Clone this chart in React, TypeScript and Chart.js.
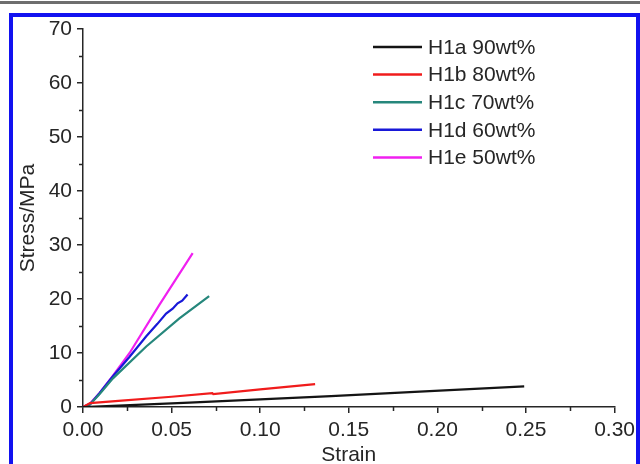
import { useEffect, useRef } from "react";
import { Chart, registerables } from "chart.js";

Chart.register(...registerables);

const seriesLabels = ["H1a 90wt%", "H1b 80wt%", "H1c 70wt%", "H1d 60wt%", "H1e 50wt%"];
const seriesColors = ["#141414", "#f01c1c", "#26877c", "#1818d8", "#f020f0"];

const h1aStrain = [0, 0.02, 0.06, 0.1, 0.14, 0.19, 0.249];
const h1aStress = [0, 0.25, 0.8, 1.4, 2.0, 2.85, 3.82];

const h1bStrain = [0, 0.004, 0.02, 0.05, 0.073, 0.0735, 0.1, 0.131];
const h1bStress = [0, 0.72, 1.15, 1.9, 2.55, 2.4, 3.25, 4.25];

const h1cStrain = [0, 0.004, 0.0094, 0.0169, 0.0357, 0.0544, 0.0712];
const h1cStress = [0, 0.5, 2.4, 5.3, 11.2, 16.4, 20.55];

const h1dStrain = [0, 0.004, 0.0094, 0.0169, 0.0263, 0.0357, 0.042, 0.0469, 0.0506, 0.0534, 0.056, 0.059];
const h1dStress = [0, 0.5, 2.6, 5.7, 9.3, 13.1, 15.4, 17.3, 18.2, 19.2, 19.7, 20.85];

const h1eStrain = [0, 0.0038, 0.0094, 0.0169, 0.0263, 0.0431, 0.0619];
const h1eStress = [0, 0.6, 2.6, 5.8, 10.0, 18.9, 28.5];

const xMin = 0;
const xMax = 0.3;
const xStep = 0.05;
const yMin = 0;
const yMax = 70;
const yStep = 10;

const seriesStrain = [h1aStrain, h1bStrain, h1cStrain, h1dStrain, h1eStrain];
const seriesStress = [h1aStress, h1bStress, h1cStress, h1dStress, h1eStress];

const FONT = '"Liberation Sans", Arial, sans-serif';
const TEXT = "#262626";

const minorTicksPlugin = {
  id: "minorTicks",
  afterDraw(chart: any) {
    const { ctx, chartArea, scales } = chart;
    const xs = scales.x;
    const ys = scales.y;
    ctx.save();
    ctx.strokeStyle = TEXT;
    ctx.lineWidth = 1.5;
    ctx.beginPath();
    for (let v = xMin + xStep / 2; v < xMax; v += xStep) {
      const px = Math.round(xs.getPixelForValue(v)) + 0.5;
      ctx.moveTo(px, chartArea.bottom);
      ctx.lineTo(px, chartArea.bottom + 4);
    }
    for (let v = yMin + yStep / 2; v < yMax; v += yStep) {
      const py = Math.round(ys.getPixelForValue(v)) + 0.5;
      ctx.moveTo(chartArea.left, py);
      ctx.lineTo(chartArea.left - 4, py);
    }
    ctx.stroke();
    ctx.restore();
  },
};

const legendPlugin = {
  id: "customLegend",
  afterDraw(chart: any) {
    const { ctx } = chart;
    ctx.save();
    chart.data.datasets.forEach((ds: any, i: number) => {
      const y = 47 + i * 27.6;
      ctx.strokeStyle = ds.borderColor;
      ctx.lineWidth = 2.5;
      ctx.beginPath();
      ctx.moveTo(373, y);
      ctx.lineTo(422, y);
      ctx.stroke();
      ctx.fillStyle = TEXT;
      ctx.font = `21px ${FONT}`;
      ctx.textBaseline = "middle";
      ctx.textAlign = "left";
      ctx.fillText(ds.label, 428, y + 1);
    });
    ctx.restore();
  },
};

function StressStrainChart() {
  const ref = useRef<HTMLCanvasElement | null>(null);

  useEffect(() => {
    if (!ref.current) return;
    const datasets = seriesLabels.map((label, i) => ({
      label,
      data: seriesStrain[i].map((x, j) => ({ x, y: seriesStress[i][j] })),
      borderColor: seriesColors[i],
      backgroundColor: seriesColors[i],
      borderWidth: 2.2,
      pointRadius: 0,
      showLine: true,
      tension: 0,
      fill: false,
    }));

    const chart = new Chart(ref.current, {
      type: "scatter",
      data: { datasets },
      plugins: [minorTicksPlugin, legendPlugin],
      options: {
        animation: false,
        responsive: false,
        maintainAspectRatio: false,
        layout: { padding: { top: 29, right: 23, bottom: 0, left: 0 } },
        plugins: {
          legend: { display: false },
          tooltip: { enabled: false },
        },
        scales: {
          x: {
            type: "linear",
            min: xMin,
            max: xMax,
            afterFit: (scale: any) => {
              scale.height = 61;
            },
            ticks: {
              stepSize: xStep,
              padding: 5,
              color: TEXT,
              font: { family: FONT, size: 21 },
              maxRotation: 0,
              autoSkip: false,
              callback: (v: any) => Number(v).toFixed(2),
            },
            grid: {
              display: true,
              drawOnChartArea: false,
              drawTicks: true,
              tickLength: 6,
              color: TEXT,
              lineWidth: 1.5,
            },
            border: { display: true, color: TEXT, width: 1.5 },
            title: {
              display: true,
              text: "Strain",
              color: TEXT,
              font: { family: FONT, size: 21, lineHeight: 1 },
              padding: { top: 0, bottom: 2 },
            },
          },
          y: {
            type: "linear",
            min: yMin,
            max: yMax,
            afterFit: (scale: any) => {
              scale.width = 83;
            },
            ticks: {
              stepSize: yStep,
              padding: 5,
              color: TEXT,
              font: { family: FONT, size: 21 },
              autoSkip: false,
            },
            grid: {
              display: true,
              drawOnChartArea: false,
              drawTicks: true,
              tickLength: 6,
              color: TEXT,
              lineWidth: 1.5,
            },
            border: { display: true, color: TEXT, width: 1.5 },
            title: {
              display: true,
              text: "Stress/MPa",
              color: TEXT,
              font: { family: FONT, size: 21, lineHeight: 1 },
              padding: { top: 18, bottom: 0 },
            },
          },
        },
      },
    });
    return () => chart.destroy();
  }, []);

  return (
    <canvas
      ref={ref}
      width={640}
      height={468}
      style={{ position: "absolute", left: 0, top: 0, width: 640, height: 468 }}
    />
  );
}

export default function App() {
  return (
    <div
      style={{
        position: "absolute",
        left: 0,
        top: 0,
        width: 640,
        height: 464,
        overflow: "hidden",
        background: "#ffffff",
      }}
    >
      <StressStrainChart />
      <div
        style={{
          position: "absolute",
          left: 0,
          top: 1,
          width: 640,
          height: 3,
          background: "#6e6e6e",
        }}
      />
      <div
        style={{
          position: "absolute",
          left: 9,
          top: 13,
          width: 631,
          height: 470,
          boxSizing: "border-box",
          border: "4px solid #1212f0",
          pointerEvents: "none",
        }}
      />
    </div>
  );
}
